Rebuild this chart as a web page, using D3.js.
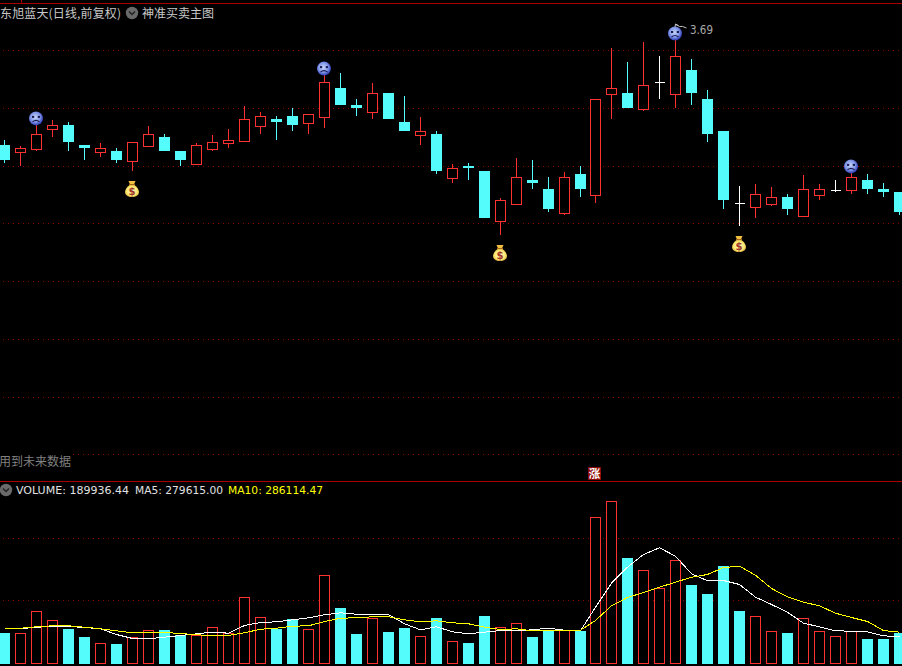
<!DOCTYPE html>
<html><head><meta charset="utf-8">
<style>html,body{margin:0;padding:0;background:#000;overflow:hidden}svg{display:block}</style>
<script src="https://cdn.jsdelivr.net/npm/d3@7/dist/d3.min.js"></script>
</head><body><svg id="c" width="902" height="666"></svg>
<script>
const highs=[3.357,3.337,3.407,3.423,3.417,3.340,3.347,3.330,3.350,3.403,3.377,3.320,3.347,3.373,3.393,3.470,3.450,3.437,3.463,3.443,3.573,3.580,3.493,3.547,3.513,3.503,3.433,3.387,3.277,3.280,3.253,3.163,3.297,3.290,3.233,3.250,3.270,3.493,3.663,3.617,3.683,3.637,3.690,3.627,3.523,3.387,3.203,3.210,3.200,3.177,3.240,3.210,3.223,3.247,3.243,3.213,3.183];
const opens=[3.340,3.317,3.327,3.393,3.407,3.340,3.317,3.320,3.287,3.337,3.367,3.320,3.277,3.327,3.347,3.353,3.403,3.427,3.437,3.413,3.433,3.530,3.473,3.450,3.513,3.417,3.373,3.377,3.230,3.270,3.253,3.087,3.143,3.223,3.193,3.113,3.243,3.173,3.510,3.513,3.460,3.550,3.510,3.590,3.493,3.387,3.147,3.133,3.143,3.167,3.103,3.173,3.190,3.190,3.223,3.193,3.183];
const closes=[3.290,3.330,3.377,3.407,3.350,3.330,3.330,3.290,3.350,3.377,3.320,3.290,3.340,3.350,3.357,3.427,3.437,3.417,3.407,3.443,3.550,3.473,3.463,3.513,3.427,3.387,3.387,3.253,3.263,3.263,3.097,3.157,3.233,3.213,3.127,3.233,3.193,3.493,3.530,3.463,3.540,3.550,3.637,3.513,3.377,3.157,3.147,3.177,3.167,3.127,3.193,3.193,3.190,3.233,3.193,3.183,3.117];
const lows=[3.280,3.270,3.320,3.367,3.320,3.290,3.300,3.280,3.253,3.337,3.320,3.270,3.277,3.320,3.330,3.353,3.377,3.357,3.387,3.377,3.397,3.473,3.437,3.427,3.427,3.387,3.340,3.243,3.213,3.223,3.097,3.040,3.143,3.193,3.117,3.107,3.167,3.147,3.427,3.463,3.453,3.493,3.463,3.473,3.350,3.127,3.070,3.097,3.137,3.107,3.103,3.157,3.183,3.177,3.177,3.167,3.107];
const volumes=[310000,307000,527000,437000,350000,270000,207000,200000,267000,337000,340000,287000,290000,367000,307000,667000,467000,350000,447000,347000,887000,560000,300000,457000,320000,360000,277000,460000,227000,210000,480000,367000,407000,270000,330000,340000,330000,1467000,1627000,1060000,937000,757000,1037000,790000,700000,980000,530000,477000,327000,310000,457000,327000,277000,327000,250000,250000,310000];
const ma5=[357000,357000,373000,380000,380000,370000,357000,300000,260000,257000,273000,290000,307000,323000,313000,390000,420000,427000,447000,467000,497000,517000,503000,503000,500000,407000,347000,377000,327000,307000,323000,340000,337000,347000,363000,343000,337000,573000,813000,973000,1100000,1167000,1083000,907000,837000,840000,800000,673000,600000,523000,413000,377000,337000,333000,327000,287000,277000];
const ma10=[363000,363000,377000,387000,387000,373000,357000,337000,317000,317000,320000,310000,297000,290000,290000,317000,353000,363000,383000,387000,430000,463000,467000,477000,477000,447000,427000,437000,417000,407000,373000,350000,357000,337000,337000,337000,343000,440000,587000,670000,720000,773000,823000,873000,900000,970000,983000,893000,760000,677000,623000,587000,513000,470000,430000,340000,323000];
const priceTicks=[3.655,3.462,3.268,3.078,2.885,2.692,2.498,2.308];
const volumeTicks=[635000,1255000];
const sellSignals=[2,20,42,53];
const buySignals=[8,31,46];
const fallingDoji=[46];
const titleText="东旭蓝天(日线,前复权)";
const indicatorText="神准买卖主图";
const warnText="用到未来数据";
const highLabel="3.69";

const svg=d3.select("#c");
const RED="#ff3232",CYAN="#54fcfc",GRID="#8c0000",LINE="#a80000";
const FONT="'Noto Sans CJK SC','Noto Sans',sans-serif";
const NUM="'DejaVu Sans',sans-serif";
const xs=d3.scaleLinear().domain([0,56]).range([4.73,899.61]);
const x=i=>Math.floor(xs(i))+.5;
const y=d3.scaleLinear().domain([3.69,2.59]).range([40,370]);
const v=d3.scaleLinear().domain([0,1660000]).range([664,498]);
const snap=n=>Math.round(n)+.5;
const defs=svg.append("defs");
const rg=defs.append("radialGradient").attr("id","face").attr("cx","45%").attr("cy","42%").attr("r","58%");
[[0,"#c6d4f6"],[.6,"#8097e8"],[1,"#2a36b0"]].forEach(s=>rg.append("stop").attr("offset",s[0]).attr("stop-color",s[1]));
const bg=defs.append("radialGradient").attr("id","bag").attr("cx","50%").attr("cy","50%").attr("r","60%");
[[0,"#fff8c0"],[.65,"#fce870"],[1,"#c08820"]].forEach(s=>bg.append("stop").attr("offset",s[0]).attr("stop-color",s[1]));

svg.append("rect").attr("width",902).attr("height",666).attr("fill","#000");

// grid
function grid(vals,scale){
  svg.append("g").selectAll("line").data(vals).join("line")
    .attr("x1",3).attr("x2",902)
    .attr("y1",d=>Math.floor(scale(d))+.5).attr("y2",d=>Math.floor(scale(d))+.5)
    .attr("stroke",GRID).attr("stroke-dasharray","1 4").attr("shape-rendering","crispEdges");
}
grid(priceTicks,y);grid(volumeTicks,v);

// frame lines
const frame=svg.append("g").attr("stroke",LINE).attr("shape-rendering","crispEdges");
frame.append("line").attr("x1",0).attr("x2",902).attr("y1",3.5).attr("y2",3.5);
frame.append("line").attr("x1",21.5).attr("x2",21.5).attr("y1",0).attr("y2",3);
frame.append("line").attr("x1",0).attr("x2",902).attr("y1",481.5).attr("y2",481.5);

// candles
const days=d3.range(highs.length);
const kind=i=>opens[i]===closes[i]?"doji":(closes[i]>opens[i]?"up":"down");
const colorOf=i=>({doji:"#fff",up:RED,down:CYAN})[kind(i)];
const cg=svg.append("g").attr("shape-rendering","crispEdges");
cg.selectAll("line.w").data(days).join("line").attr("class","w")
  .attr("x1",d=>x(d)).attr("x2",d=>x(d))
  .attr("y1",d=>Math.round(y(highs[d]))).attr("y2",d=>Math.round(y(lows[d])))
  .attr("stroke",colorOf);
cg.selectAll("line.d").data(days.filter(d=>kind(d)==="doji")).join("line").attr("class","d")
  .attr("x1",d=>x(d)-5).attr("x2",d=>x(d)+5)
  .attr("y1",d=>snap(y(opens[d]))).attr("y2",d=>snap(y(opens[d])))
  .attr("stroke","#fff");
cg.selectAll("rect.u").data(days.filter(d=>kind(d)==="up")).join("rect").attr("class","u")
  .attr("x",d=>x(d)-5).attr("width",10)
  .attr("y",d=>snap(y(closes[d]))).attr("height",d=>Math.round(y(opens[d]))-Math.round(y(closes[d])))
  .attr("fill","#000").attr("stroke",RED);
cg.selectAll("rect.f").data(days.filter(d=>kind(d)==="down")).join("rect").attr("class","f")
  .attr("x",d=>x(d)-5.5).attr("width",11)
  .attr("y",d=>Math.round(y(opens[d]))).attr("height",d=>Math.round(y(closes[d]))-Math.round(y(opens[d])))
  .attr("fill",CYAN);

// volume
const isDownVol=i=>kind(i)==="down"||fallingDoji.includes(i);
const vg=svg.append("g").attr("shape-rendering","crispEdges");
vg.selectAll("rect.vu").data(days.filter(d=>!isDownVol(d))).join("rect").attr("class","vu")
  .attr("x",d=>x(d)-5).attr("width",10)
  .attr("y",d=>snap(v(volumes[d]))).attr("height",d=>v(0)-1-Math.round(v(volumes[d])))
  .attr("fill","#000").attr("stroke",RED);
vg.selectAll("rect.vd").data(days.filter(isDownVol)).join("rect").attr("class","vd")
  .attr("x",d=>x(d)-5.5).attr("width",11)
  .attr("y",d=>Math.round(v(volumes[d]))).attr("height",d=>v(0)-Math.round(v(volumes[d])))
  .attr("fill",CYAN);
const line=s=>d3.line().x((d,i)=>x(i)).y(d=>v(d)+.5)(s);
svg.append("path").attr("d",line(ma5)).attr("fill","none").attr("stroke","#fff").attr("shape-rendering","crispEdges");
svg.append("path").attr("d",line(ma10)).attr("fill","none").attr("stroke","#ff0").attr("shape-rendering","crispEdges");

// signals
function face(cx,cy){
  const g=svg.append("g").attr("transform",`translate(${cx},${cy})`);
  g.append("circle").attr("r",7).attr("fill","url(#face)");
  g.append("rect").attr("x",-4).attr("y",-2.5).attr("width",2.2).attr("height",2).attr("fill","#1a1a50");
  g.append("rect").attr("x",1.8).attr("y",-2.5).attr("width",2.2).attr("height",2).attr("fill","#1a1a50");
  g.append("path").attr("d","M-3.5 3.5Q0 0.5 3.5 3.5").attr("fill","none").attr("stroke","#1a1a50").attr("stroke-width",1.2);
}
function bag(cx,cy){
  const g=svg.append("g").attr("transform",`translate(${cx},${cy})`);
  g.append("path").attr("d","M-3.5 -8H3.5L2 -4.5H-2Z").attr("fill","#f0c040");
  g.append("rect").attr("x",-3).attr("y",-5).attr("width",6).attr("height",1.6).attr("fill","#a86818");
  g.append("path").attr("d","M-2.5 -4C-5 -2 -7 0.5 -7 3C-7 6.5 -4 8 0 8C4 8 7 6.5 7 3C7 0.5 5 -2 2.5 -4Z").attr("fill","url(#bag)");
  g.append("text").attr("y",5.5).attr("text-anchor","middle").attr("font-family",NUM).attr("font-size",10).attr("font-weight","bold").attr("fill","#a03828").text("$");
}
sellSignals.forEach(i=>face(x(i)-.5,y(highs[i])-6.5));
buySignals.forEach(i=>bag(x(i)-.5,y(lows[i])+18));

// high label
const hx=x(42);
svg.append("path").attr("d",`M${hx+3} 25.5L${hx} 24L${hx-.5} 27M${hx} 24.5L${hx+4} 26.5L${hx+7} 26.5L${hx+11} 28`)
  .attr("fill","none").attr("stroke","#c0c0c0");
svg.append("text").attr("x",690).attr("y",34).attr("font-family",NUM).attr("font-size",11.5).attr("textLength",23).attr("lengthAdjust","spacingAndGlyphs").attr("fill","#a8a8a8").text(highLabel);

// chevron buttons
function chevron(cx,cy){
  svg.append("circle").attr("cx",cx).attr("cy",cy).attr("r",6.2).attr("fill","#6a6a6a");
  svg.append("path").attr("d",`M${cx-3} ${cy-1.5}L${cx} ${cy+1.5}L${cx+3} ${cy-1.5}`).attr("fill","none").attr("stroke","#222").attr("stroke-width",1.5);
}
chevron(132,13);chevron(6,490);

// texts
svg.append("text").attr("x",0).attr("y",18).attr("font-family",FONT).attr("font-size",12).attr("textLength",121).attr("lengthAdjust","spacing").attr("fill","#c8c8c8").text(titleText);
svg.append("text").attr("x",142).attr("y",18).attr("font-family",FONT).attr("font-size",12).attr("fill","#c8c8c8").text(indicatorText);
svg.append("rect").attr("x",0).attr("y",453).attr("width",71).attr("height",14).attr("fill","#000");
svg.append("text").attr("x",-1).attr("y",466).attr("font-family",FONT).attr("font-size",12).attr("fill","#808080").text(warnText);

const fmt=d3.format(".2f");
function leg(xp,len,col,s){svg.append("text").attr("x",xp).attr("y",494).attr("font-family",NUM).attr("font-size",11).attr("textLength",len).attr("lengthAdjust","spacingAndGlyphs").attr("fill",col).text(s);}
leg(16,113,"#e0e0e0","VOLUME: "+fmt(189936.44));
leg(135,88,"#e0e0e0","MA5: "+fmt(279615));
leg(228,95,"#ffff00","MA10: "+fmt(286114.47));

// limit-up badge
svg.append("rect").attr("x",588).attr("y",467).attr("width",13).attr("height",13).attr("fill","#8c0a0a");
svg.append("text").attr("x",594.5).attr("y",478).attr("text-anchor","middle").attr("font-family",FONT).attr("font-size",11.5).attr("font-weight","bold").attr("fill","#fff").text("涨");
</script></body></html>
